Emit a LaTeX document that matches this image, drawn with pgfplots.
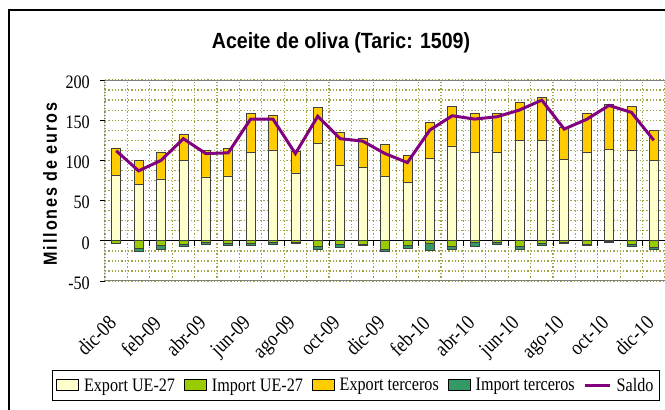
\documentclass[border=0pt]{standalone}
\usepackage{pgfplots}
\pgfplotsset{compat=1.18}
\usepackage{pgfplotstable}
\usepackage{fontspec}
\setmainfont{Liberation Serif}[FakeStretch=0.85]
\newfontfamily\titlefont{Liberation Sans}[FakeStretch=0.89]
\newfontfamily\ylabfont{Liberation Sans}[FakeStretch=0.85,LetterSpace=10]
\definecolor{euexp}{HTML}{FFFFCC}
\definecolor{euimp}{HTML}{99CC00}
\definecolor{terexp}{HTML}{FFCC00}
\definecolor{terimp}{HTML}{339966}
\definecolor{saldoc}{HTML}{800080}
\definecolor{gridc}{HTML}{A3A347}

\pgfplotstableread{
x eu ter euimp terimp saldo
0 81.5 34.1 -3.0 -0.5 112
1 70.3 29.7 -10.0 -3.0 87
2 77.0 33.6 -6.0 -4.5 100
3 100.0 32.7 -4.5 -2.0 127
4 79.4 32.6 -2.5 -1.5 108.5
5 80.7 34.9 -3.3 -2.5 109.4
6 110.0 48.5 -3.7 -1.7 151.4
7 113.0 42.5 -2.5 -1.5 151.4
8 84.4 27.1 -2.5 -1.0 108.5
9 121.0 45.0 -7.5 -3.3 155
10 93.6 41.1 -4.5 -3.4 127
11 91.0 37.0 -4.0 -2.0 124
12 80.7 38.7 -11.2 -2.1 108.5
13 72.8 33.7 -5.4 -3.7 97.3
14 102.7 44.9 -3.0 -8.6 137.7
15 118.0 48.8 -7.0 -3.4 155.5
16 110.0 49.0 -1.7 -5.8 151.4
17 110.6 47.9 -2.5 -1.5 154.3
18 124.4 47.6 -7.0 -3.4 162.6
19 124.4 54.0 -3.7 -1.7 175
20 101.5 39.5 -2.0 -1.7 139
21 110.6 48.4 -4.0 -2.0 151
22 114.0 55.7 -0.8 -0.9 168.4
23 112.7 54.3 -4.0 -3.0 159.7
24 100.0 37.0 -8.0 -3.2 125
}\datatable

\pgfplotsset{
  base/.style={
    scale only axis, width=560pt, height=201pt,
    xmin=-0.5, xmax=24.5, ymin=-50, ymax=200,
    at={(105pt,129pt)}, anchor=south west,
  },
  barstyle/.style={draw=black!75, line width=0.7pt},
  boxlegend/.style={legend image code/.code={\draw[##1] (0pt,-5pt) rectangle (22pt,6pt);}},
  linelegend/.style={legend image code/.code={\draw[##1] (0pt,0pt) -- (25pt,0pt);}},
}

\begin{document}
\begin{tikzpicture}
\draw[line width=1.2pt] (9pt,-10pt) -- (9pt,400pt) -- (690pt,400pt);

\begin{axis}[base,
  ybar stacked, bar width=9pt,
  axis line style={draw=none},
  xtick={0,2,...,24},
  xticklabels={dic-08,feb-09,abr-09,jun-09,ago-09,oct-09,dic-09,feb-10,abr-10,jun-10,ago-10,oct-10,dic-10},
  minor xtick={-0.5,0.5,...,24.5},
  ytick={-50,0,50,100,150,200},
  yticklabels={-50,0,50,100,150,200},
  minor y tick num=3,
  xmajorgrids=false, xminorgrids=true,
  ymajorgrids=true, yminorgrids=true,
  grid style={gridc, line width=1.3pt, dash pattern=on 1.3pt off 2pt},
  minor grid style={gridc, line width=1.3pt, dash pattern=on 1.3pt off 2pt},
  tick align=outside, major tick length=5pt, minor tick length=0pt,
  x tick style={draw=none},
  y tick style={draw=black, line width=0.8pt},
  tick label style={font=\fontsize{19}{22}\selectfont},
  xticklabel style={font=\fontsize{21}{24}\selectfont, inner sep=0pt, xshift=-9pt, yshift=-28pt, rotate=45, anchor=north east},
  yticklabel style={inner sep=0pt, anchor=east, xshift=-10pt, yshift=-2pt},
]
\addplot[barstyle, fill=euexp] table[x=x,y=eu]{\datatable};
\addplot[barstyle, fill=terexp] table[x=x,y=ter]{\datatable};
\draw[gray, line width=1pt] (rel axis cs:0,0) rectangle (rel axis cs:1,1);
\draw[black, line width=1pt] (rel axis cs:0,0) -- (rel axis cs:0,1);
\end{axis}

\begin{axis}[base, hide axis, ybar stacked, bar width=9pt]
\addplot[barstyle, fill=euimp] table[x=x,y=euimp]{\datatable};
\addplot[barstyle, fill=terimp] table[x=x,y=terimp]{\datatable};
\draw[black, line width=1pt] (axis cs:-0.5,0) -- (axis cs:24.5,0);
\draw[black, line width=0.8pt]
  (axis cs:1.5,0) -- ++(0pt,-5pt) (axis cs:3.5,0) -- ++(0pt,-5pt)
  (axis cs:5.5,0) -- ++(0pt,-5pt) (axis cs:7.5,0) -- ++(0pt,-5pt)
  (axis cs:9.5,0) -- ++(0pt,-5pt) (axis cs:11.5,0) -- ++(0pt,-5pt)
  (axis cs:13.5,0) -- ++(0pt,-5pt) (axis cs:15.5,0) -- ++(0pt,-5pt)
  (axis cs:17.5,0) -- ++(0pt,-5pt) (axis cs:19.5,0) -- ++(0pt,-5pt)
  (axis cs:21.5,0) -- ++(0pt,-5pt) (axis cs:23.5,0) -- ++(0pt,-5pt);
\end{axis}

\begin{axis}[base, hide axis,
  legend columns=5,
  legend style={at={(axis description cs:0.448,-0.52)}, anchor=center,
    draw=black, line width=0.8pt, font=\fontsize{19}{22}\selectfont,
    inner xsep=4pt, inner ysep=6pt,
    /tikz/every odd column/.append style={column sep=3pt},
    /tikz/every even column/.append style={column sep=7pt}},
]
\addlegendimage{fill=euexp, draw=black, line width=0.8pt, boxlegend}
\addlegendentry{Export UE-27}
\addlegendimage{fill=euimp, draw=black, line width=0.8pt, boxlegend}
\addlegendentry{Import UE-27}
\addlegendimage{fill=terexp, draw=black, line width=0.8pt, boxlegend}
\addlegendentry{Export terceros}
\addlegendimage{fill=terimp, draw=black, line width=0.8pt, boxlegend}
\addlegendentry{Import terceros}
\addplot[saldoc, line width=3pt, mark=none, linelegend]
  table[x=x,y=saldo]{\datatable};
\addlegendentry{Saldo}
\end{axis}

\node[font=\titlefont\bfseries\fontsize{22}{25}\selectfont] at (341pt,367pt) {Aceite de oliva (Taric: 1509)};
\node[rotate=90, font=\ylabfont\bfseries\fontsize{19}{22}\selectfont] at (50pt,226pt) {Millones de euros};
\pgfresetboundingbox
\useasboundingbox (0,0) rectangle (665pt,410pt);
\end{tikzpicture}
\end{document}
